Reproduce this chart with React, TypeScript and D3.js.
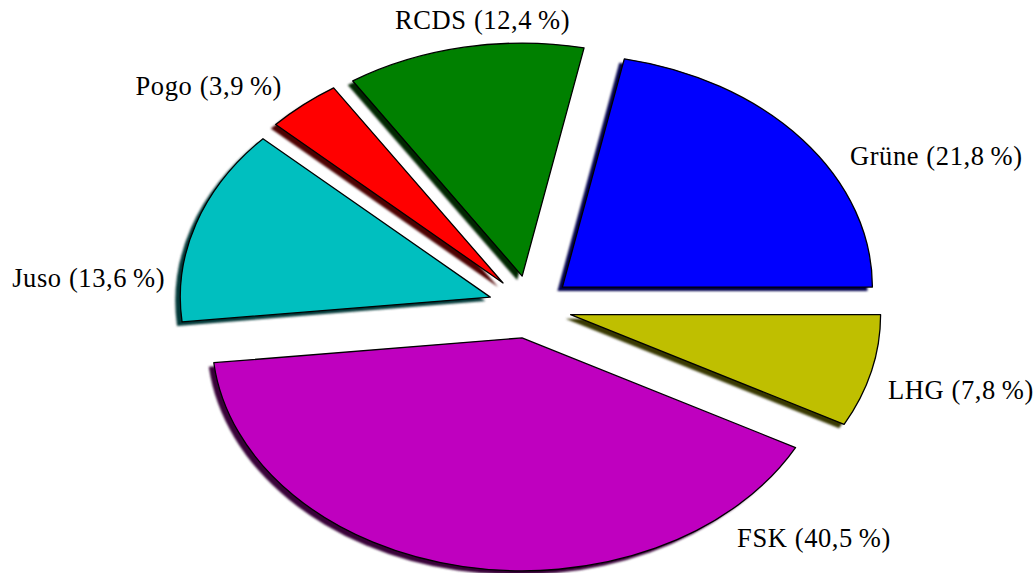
import React from "react";
import * as d3 from "d3";

// party results, counter-clockwise from 3 o'clock
const parties = ["Grüne", "RCDS", "Pogo", "Juso", "FSK", "LHG"];
const shares = [21.8, 12.4, 3.9, 13.6, 40.5, 7.8];
const shareLabels = ["21,8", "12,4", "3,9", "13,6", "40,5", "7,8"];
const colors = ["#0000ff", "#008000", "#ff0000", "#00bfbf", "#bf00bf", "#bfbf00"];

// label anchor points in ellipse units (x / rx, y / ry) relative to pie centre
const labelPos: [number, number, string][] = [
    [1.032, -0.609, "start"],
    [-0.153, -1.193, "middle"],
    [-0.8, -0.91, "end"],
    [-1.177, -0.086, "end"],
    [0.668, 1.03, "start"],
    [1.155, 0.395, "start"],
];

const W = 1035;
const H = 573;
const cx = 530;
const cy = 307;
const rx = 310;
const ry = 233;
const explode = 0.135;

const App = () => {
    const pie = d3.pie<number>()
        .sort(null)
        .startAngle(Math.PI / 2)
        .endAngle(Math.PI / 2 - 2 * Math.PI);
    const arcs = pie(shares);
    const arc = d3.arc<d3.PieArcDatum<number>>().innerRadius(0).outerRadius(ry);
    const sx = rx / ry;

    const offset = (a: d3.PieArcDatum<number>) => {
        const mid = (a.startAngle + a.endAngle) / 2;
        return [explode * rx * Math.sin(mid), -explode * ry * Math.cos(mid)];
    };

    return (
        <svg width={W} height={H} style={{position: "absolute", left: 0, top: 0, background: "#fff"}}
             fontFamily="'Liberation Serif', serif">
            <defs>
                <filter id="soft" x="-10%" y="-10%" width="120%" height="120%">
                    <feGaussianBlur stdDeviation="0.9"/>
                </filter>
            </defs>
            {/* shadows first so no slice gets covered */}
            {arcs.map((a, i) => {
                const [ox, oy] = offset(a);
                return (
                    <g key={"s" + i} transform={`translate(${cx + ox - 5},${cy + oy + 4}) scale(${sx},1)`}>
                        <path d={arc(a) || ""} fill={d3.interpolateRgb(colors[i], "#000")(0.7)}
                              filter="url(#soft)"/>
                    </g>
                );
            })}
            {arcs.map((a, i) => {
                const [ox, oy] = offset(a);
                return (
                    <g key={"p" + i} transform={`translate(${cx + ox},${cy + oy}) scale(${sx},1)`}>
                        <path d={arc(a) || ""} fill={colors[i]} stroke="#000" strokeWidth={1.3}
                              strokeLinejoin="round" vectorEffect="non-scaling-stroke"/>
                    </g>
                );
            })}
            {parties.map((p, i) => (
                <text key={"t" + i} x={cx + labelPos[i][0] * rx} y={cy + labelPos[i][1] * ry}
                      textAnchor={labelPos[i][2]} fontSize={26.5} letterSpacing={0.6} fill="#000">
                    {`${p} (${shareLabels[i]}\u2009%)`}
                </text>
            ))}
        </svg>
    );
};

export default App;
